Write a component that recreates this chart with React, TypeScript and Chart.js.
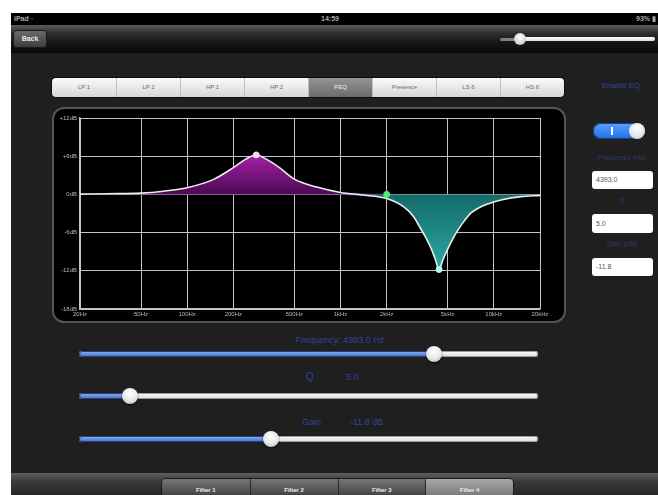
import React, { useEffect, useRef } from 'react';
import { Chart, registerables } from 'chart.js';
Chart.register(...registerables);

// ---- data ----
const freqTicks = [20, 50, 100, 200, 500, 1000, 2000, 5000, 10000, 20000];
const freqTickLabels = ['20Hz', '50Hz', '100Hz', '200Hz', '500Hz', '1kHz', '2kHz', '5kHz', '10kHz', '20kHz'];
const dbTicks = [12, 6, 0, -6, -12, -18];
const dbTickLabels = ['+12dB', '+6dB', '0dB', '-6dB', '-12dB', '-18dB'];

const band1Freq = [20, 30, 50, 70, 100, 150, 200, 240, 282, 330, 400, 500, 700, 1000, 1500, 2000];
const band1Gain = [0.05, 0.1, 0.2, 0.5, 1.05, 2.4, 4.2, 5.5, 6.2, 5.5, 4.2, 2.4, 1.15, 0.4, 0.15, 0.05];

const band2Freq = [1000, 1400, 2000, 2600, 3000, 3300, 3600, 3900, 4150, 4393, 4650, 5000, 5400, 5800, 6400, 7100, 8000, 9100, 11500, 15000, 20000];
const band2Gain = [-0.1, -0.25, -0.7, -2.0, -3.5, -5.2, -6.8, -8.5, -10.2, -11.8, -10.3, -8.6, -7.0, -5.7, -4.2, -2.9, -2.1, -1.5, -0.8, -0.35, -0.15];

const sumFreq = [20, 30, 50, 70, 100, 150, 200, 240, 282, 330, 400, 500, 700, 1000, 1400, 2000, 2600, 3000, 3300, 3600, 3900, 4150, 4393, 4650, 5000, 5400, 5800, 6400, 7100, 8000, 9100, 11500, 15000, 20000];
const sumGain = [0.05, 0.1, 0.2, 0.5, 1.05, 2.4, 4.2, 5.5, 6.2, 5.5, 4.2, 2.4, 1.15, 0.3, -0.1, -0.65, -2.0, -3.5, -5.2, -6.8, -8.5, -10.2, -11.8, -10.3, -8.6, -7.0, -5.7, -4.2, -2.9, -2.1, -1.5, -0.8, -0.35, -0.15];

const nodeFreq = [282, 2000, 4393];
const nodeGain = [6.2, 0, -11.8];
const nodeColors = ['#f6dcf6', '#52f070', '#aefff2'];

const segLabels = ['LP 1', 'LP 2', 'HP 1', 'HP 2', 'PEQ', 'Presence', 'LS 6', 'HS 6'];
const selectedSeg = 4;
const tabLabels = ['Filter 1', 'Filter 2', 'Filter 3', 'Filter 4'];
const selectedTab = 3;

const freqValue = '4393.0';
const qValue = '5.0';
const gainValue = '-11.8';

const FONT = '"Liberation Sans", Arial, Helvetica, sans-serif';

function toPoints(xs: number[], ys: number[]) {
  return xs.map((x, i) => ({ x, y: ys[i] }));
}

function EqChart() {
  const ref = useRef<HTMLCanvasElement>(null);
  useEffect(() => {
    const gridColor = '#c4c4c4';
    const grad = (top: string, bottom: string, peak: number) => (ctx: any) => {
      const chart = ctx.chart;
      if (!chart.chartArea) return top;
      const y0 = chart.scales.y.getPixelForValue(0);
      const y1 = chart.scales.y.getPixelForValue(peak);
      const g = chart.ctx.createLinearGradient(0, y1, 0, y0);
      g.addColorStop(0, top);
      g.addColorStop(1, bottom);
      return g;
    };
    const chart = new Chart(ref.current!, {
      type: 'line',
      data: {
        datasets: [
          {
            data: toPoints(nodeFreq, nodeGain),
            showLine: false,
            pointRadius: 3,
            pointBackgroundColor: nodeColors,
            pointBorderColor: nodeColors,
            pointBorderWidth: 1,
            order: 0,
          },
          {
            data: toPoints(sumFreq, sumGain),
            borderColor: '#ececec',
            borderWidth: 1.6,
            pointRadius: 0,
            fill: false,
            cubicInterpolationMode: 'monotone',
            order: 1,
          },
          {
            data: toPoints(band1Freq, band1Gain),
            borderWidth: 0,
            borderColor: 'rgba(0,0,0,0)',
            pointRadius: 0,
            fill: 'origin',
            backgroundColor: grad('#a620a8', '#4a0a52', Math.max(...band1Gain)),
            cubicInterpolationMode: 'monotone',
            order: 2,
          },
          {
            data: toPoints(band2Freq, band2Gain),
            borderWidth: 0,
            borderColor: 'rgba(0,0,0,0)',
            pointRadius: 0,
            fill: 'origin',
            backgroundColor: grad('#2aa9a4', '#146b69', Math.min(...band2Gain)),
            cubicInterpolationMode: 'monotone',
            order: 3,
          },
        ],
      },
      options: {
        animation: false,
        responsive: true,
        maintainAspectRatio: false,
        layout: { padding: { top: 11, right: 26, left: 0, bottom: 0 } },
        plugins: { legend: { display: false }, tooltip: { enabled: false } },
        events: [],
        scales: {
          x: {
            type: 'logarithmic',
            min: 20,
            max: 20000,
            afterBuildTicks: (s: any) => {
              s.ticks = freqTicks.map((v) => ({ value: v }));
            },
            afterFit: (s: any) => {
              s.height = 14;
            },
            ticks: {
              autoSkip: false,
              maxRotation: 0,
              padding: 2,
              color: '#b8b8b8',
              font: { size: 6, family: FONT },
              callback: (v: any) => {
                const i = freqTicks.indexOf(Number(v));
                return i >= 0 ? freqTickLabels[i] : '';
              },
            },
            grid: { color: gridColor, lineWidth: 1, drawTicks: false },
            border: { color: gridColor, width: 1.5 },
          },
          y: {
            type: 'linear',
            min: -18,
            max: 12,
            afterBuildTicks: (s: any) => {
              s.ticks = dbTicks.map((v) => ({ value: v }));
            },
            afterFit: (s: any) => {
              s.width = 28;
            },
            ticks: {
              padding: 3,
              color: '#b8b8b8',
              font: { size: 6, family: FONT },
              callback: (v: any) => {
                const i = dbTicks.indexOf(Number(v));
                return i >= 0 ? dbTickLabels[i] : '';
              },
            },
            grid: { color: gridColor, lineWidth: 1, drawTicks: false },
            border: { color: gridColor, width: 1.5 },
          },
        },
      } as any,
    });
    return () => chart.destroy();
  }, []);
  return <canvas ref={ref} />;
}

const abs = (l: number, t: number, w: number, h: number): React.CSSProperties => ({
  position: 'absolute',
  left: l,
  top: t,
  width: w,
  height: h,
});

function Slider({ y, thumb }: { y: number; thumb: number }) {
  const left = 79;
  const right = 538;
  return (
    <>
      <div
        style={{
          ...abs(left, y - 3, right - left, 6),
          borderRadius: 3,
          background: 'linear-gradient(#ffffff, #d9d9d9)',
          boxShadow: 'inset 0 0 0 1px #9a9a9a',
        }}
      />
      <div
        style={{
          ...abs(left, y - 3, thumb - left, 6),
          borderRadius: 3,
          background: 'linear-gradient(#8fb4f2, #3c6ccc)',
          boxShadow: 'inset 0 0 0 1px #243f7a',
        }}
      />
      <div
        style={{
          ...abs(thumb - 8, y - 8, 16, 16),
          borderRadius: 8,
          background: 'radial-gradient(circle at 50% 35%, #ffffff 0%, #e6e6e6 55%, #a9a9a9 100%)',
          boxShadow: '0 1px 2px rgba(0,0,0,0.7)',
        }}
      />
    </>
  );
}

export default function App() {
  const segW = 64;
  const tabW = 87.75;
  const labelBlue = '#33439a';
  const dimBlue = '#2c3a70';
  return (
    <div style={{ position: 'fixed', left: 0, top: 0, width: 658, height: 495, background: '#fff', overflow: 'hidden', fontFamily: FONT }}>
      {/* main background */}
      <div style={{ ...abs(11, 13, 647, 482), background: '#1f1f1f' }} />
      {/* status bar */}
      <div style={{ ...abs(11, 13, 647, 12), background: '#000' }} />
      <div style={{ ...abs(14, 13, 40, 12), color: '#a8a8a8', fontSize: 7, lineHeight: '12px', fontWeight: 'bold' }}>iPad ◦</div>
      <div style={{ ...abs(300, 13, 60, 12), color: '#a8a8a8', fontSize: 7, lineHeight: '12px', textAlign: 'center', fontWeight: 'bold' }}>14:59</div>
      <div style={{ ...abs(610, 13, 46, 12), color: '#a8a8a8', fontSize: 7, lineHeight: '12px', textAlign: 'right', fontWeight: 'bold' }}>93% ▮</div>
      {/* nav bar */}
      <div style={{ ...abs(11, 25, 647, 27), background: 'linear-gradient(#5c5c5c 0%, #2e2e2e 30%, #141414 70%, #0b0b0b 100%)', borderBottom: '1px solid #050505' }} />
      <div
        style={{
          ...abs(13, 30, 34, 18),
          borderRadius: 4,
          background: 'linear-gradient(#6d6d6d, #3a3a3a)',
          boxShadow: 'inset 0 0 0 1px #1a1a1a',
          color: '#e8e8e8',
          fontSize: 7,
          fontWeight: 'bold',
          lineHeight: '18px',
          textAlign: 'center',
        }}
      >
        Back
      </div>
      {/* top slider */}
      <div style={{ ...abs(500, 38, 18, 3), background: '#808080', borderRadius: 2 }} />
      <div style={{ ...abs(522, 37, 133, 4), background: 'linear-gradient(#ffffff, #dedede)', borderRadius: 2 }} />
      <div style={{ ...abs(514, 33, 12, 12), borderRadius: 6, background: 'radial-gradient(circle at 50% 35%, #ffffff, #cfcfcf 70%, #9a9a9a)' }} />

      {/* segmented control */}
      <div style={{ ...abs(52, 78, segW * segLabels.length, 19), borderRadius: 4, overflow: 'hidden', boxShadow: '0 0 0 1px #0d0d0d', display: 'flex' }}>
        {segLabels.map((s, i) => (
          <div
            key={s}
            style={{
              width: segW,
              height: 19,
              boxSizing: 'border-box',
              borderLeft: i === 0 ? 'none' : '1px solid #bdbdbd',
              background: i === selectedSeg ? 'linear-gradient(#959595, #6c6c6c)' : 'linear-gradient(#fbfbfb, #d6d6d6)',
              color: i === selectedSeg ? '#f0f0f0' : '#6a6a6a',
              fontSize: 6,
              lineHeight: '19px',
              textAlign: 'center',
            }}
          >
            {s}
          </div>
        ))}
      </div>

      {/* chart frame */}
      <div style={{ ...abs(52, 107, 514, 216), boxSizing: 'border-box', border: '2px solid #555555', borderRadius: 12, background: '#000' }} />
      <div style={{ ...abs(52, 107, 514, 216) }}>
        <EqChart />
      </div>

      {/* right panel */}
      <div style={{ ...abs(588, 80, 66, 12), color: labelBlue, fontSize: 8, textAlign: 'center', lineHeight: '12px' }}>Enable EQ</div>
      <div
        style={{
          ...abs(593, 123, 52, 16),
          borderRadius: 8,
          background: 'linear-gradient(#5aa0ff, #1f6fe6)',
          boxShadow: 'inset 0 0 0 1px #16407e',
        }}
      >
        <div style={{ position: 'absolute', left: 18, top: 4, width: 1.5, height: 8, background: '#fff' }} />
        <div style={{ position: 'absolute', right: 0, top: 0, width: 16, height: 16, borderRadius: 8, background: 'radial-gradient(circle at 50% 35%, #ffffff, #e4e4e4 60%, #b0b0b0)' }} />
      </div>
      <div style={{ ...abs(588, 152, 68, 12), color: dimBlue, fontSize: 7, textAlign: 'center', lineHeight: '12px' }}>Frequency (Hz)</div>
      <div style={{ ...abs(592, 171, 61, 18), background: '#fff', borderRadius: 3, color: '#555', fontSize: 7, lineHeight: '18px', paddingLeft: 4, boxSizing: 'border-box' }}>{freqValue}</div>
      <div style={{ ...abs(588, 195, 68, 12), color: dimBlue, fontSize: 7, textAlign: 'center', lineHeight: '12px' }}>Q</div>
      <div style={{ ...abs(592, 214, 61, 19), background: '#fff', borderRadius: 3, color: '#555', fontSize: 7, lineHeight: '19px', paddingLeft: 4, boxSizing: 'border-box' }}>{qValue}</div>
      <div style={{ ...abs(588, 238, 68, 12), color: dimBlue, fontSize: 7, textAlign: 'center', lineHeight: '12px' }}>Gain (dB)</div>
      <div style={{ ...abs(592, 258, 61, 18), background: '#fff', borderRadius: 3, color: '#555', fontSize: 7, lineHeight: '18px', paddingLeft: 4, boxSizing: 'border-box' }}>{gainValue}</div>

      {/* sliders */}
      <div style={{ ...abs(240, 334, 200, 12), color: labelBlue, fontSize: 9, textAlign: 'center', lineHeight: '12px' }}>Frequency:  {freqValue} Hz</div>
      <Slider y={354} thumb={434} />
      <div style={{ ...abs(306, 370, 20, 14), color: labelBlue, fontSize: 10, lineHeight: '14px' }}>Q</div>
      <div style={{ ...abs(346, 370, 30, 14), color: labelBlue, fontSize: 9, lineHeight: '14px' }}>{qValue}</div>
      <Slider y={396} thumb={130} />
      <div style={{ ...abs(302, 416, 30, 12), color: labelBlue, fontSize: 9, lineHeight: '12px' }}>Gain</div>
      <div style={{ ...abs(350, 416, 50, 12), color: labelBlue, fontSize: 9, lineHeight: '12px' }}>{gainValue} dB</div>
      <Slider y={439} thumb={271} />

      {/* bottom tab bar */}
      <div style={{ ...abs(11, 473, 647, 22), background: 'linear-gradient(#5e5e5e, #3a3a3a 40%, #262626)' }} />
      <div style={{ ...abs(162, 479, tabW * tabLabels.length, 18), display: 'flex', borderRadius: 4, overflow: 'hidden', boxShadow: '0 0 0 1px #1a1a1a' }}>
        {tabLabels.map((s, i) => (
          <div
            key={s}
            style={{
              width: tabW,
              height: 18,
              boxSizing: 'border-box',
              borderLeft: i === 0 ? 'none' : '1px solid #2a2a2a',
              background: i === selectedTab ? 'linear-gradient(#a8a8a8, #767676)' : 'linear-gradient(#777777, #3e3e3e)',
              color: '#eeeeee',
              fontSize: 6,
              lineHeight: '22px',
              textAlign: 'center',
              fontWeight: 'bold',
            }}
          >
            {s}
          </div>
        ))}
      </div>
    </div>
  );
}
